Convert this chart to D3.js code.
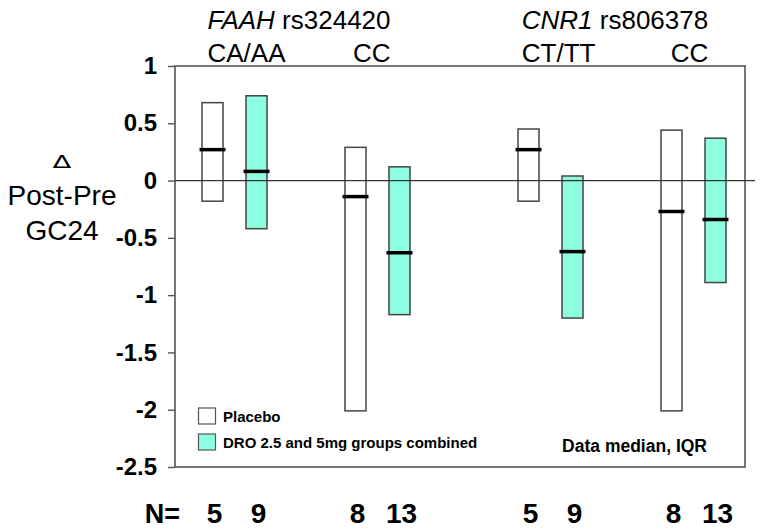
<!DOCTYPE html>
<html>
<head>
<meta charset="utf-8">
<script src="https://cdn.jsdelivr.net/npm/d3@7"></script>
<style>
  html, body { margin: 0; padding: 0; background: #fff; }
  svg { display: block; font-family: "Liberation Sans", Arial, sans-serif; }
</style>
</head>
<body>
<svg id="chart" width="762" height="531"></svg>
<script>
// ---------------- data ----------------
const genes = ["FAAH", "CNR1"];
const snps = ["rs324420", "rs806378"];
const genotypes = [["CA/AA", "CC"], ["CT/TT", "CC"]];
const series = ["Placebo", "DRO 2.5 and 5mg groups combined"];

// order: FAAH CA/AA, FAAH CC, CNR1 CT/TT, CNR1 CC
const placeboQ3 = [0.68, 0.29, 0.45, 0.44];
const placeboMedian = [0.27, -0.14, 0.27, -0.27];
const placeboQ1 = [-0.18, -2.01, -0.18, -2.01];
const droQ3 = [0.74, 0.12, 0.04, 0.37];
const droMedian = [0.08, -0.63, -0.62, -0.34];
const droQ1 = [-0.42, -1.17, -1.20, -0.89];
const placeboN = [5, 8, 5, 8];
const droN = [9, 13, 9, 13];

const yTicks = [1, 0.5, 0, -0.5, -1, -1.5, -2, -2.5];
const yTitle = ["\u0394", "Post-Pre", "GC24"];
const noteText = "Data median, IQR";

// ---------------- layout ----------------
const svg = d3.select("#chart");
const frame = { left: 175, right: 745, top: 66, bottom: 467 };
const fillDRO = "#8dffe0";
const strokeBar = "#444";

const y = d3.scaleLinear().domain([1, -2.5]).range([frame.top, frame.bottom]);
const xGene = d3.scalePoint().domain(genes).range([306, 622]);
const xGeno = d3.scalePoint().domain([0, 1]).range([-71.5, 71.5]);
const xSeries = d3.scalePoint().domain(series).range([-22, 22]);
const barW = 21;

// flatten data into records
const records = [];
genes.forEach((g, gi) => {
  genotypes[gi].forEach((gt, ti) => {
    const k = gi * 2 + ti;
    const cx = xGene(g) + xGeno(ti);
    records.push({ gene: g, gt, s: series[0], cx: cx + xSeries(series[0]),
      q1: placeboQ1[k], med: placeboMedian[k], q3: placeboQ3[k], n: placeboN[k], fill: "#fff" });
    records.push({ gene: g, gt, s: series[1], cx: cx + xSeries(series[1]),
      q1: droQ1[k], med: droMedian[k], q3: droQ3[k], n: droN[k], fill: fillDRO });
  });
});

// frame
svg.append("rect")
  .attr("x", frame.left).attr("y", frame.top)
  .attr("width", frame.right - frame.left).attr("height", frame.bottom - frame.top)
  .attr("fill", "none").attr("stroke", "#555").attr("stroke-width", 1.6);

// y axis
const yAxis = d3.axisLeft(y).tickValues(yTicks).tickSize(7).tickPadding(11)
  .tickFormat(d => String(d));
const gy = svg.append("g").attr("transform", `translate(${frame.left},0)`).call(yAxis);
gy.select(".domain").remove();
gy.selectAll(".tick line").attr("stroke", "#555").attr("stroke-width", 1.4);
gy.selectAll(".tick text")
  .attr("font-size", 24).attr("font-weight", "bold").attr("fill", "#000")
  .attr("font-family", "Liberation Sans, Arial, sans-serif");

// bars (IQR)
svg.append("g").selectAll("rect").data(records).join("rect")
  .attr("x", d => d.cx - barW / 2)
  .attr("y", d => y(d.q3))
  .attr("width", barW)
  .attr("height", d => y(d.q1) - y(d.q3))
  .attr("fill", d => d.fill)
  .attr("stroke", strokeBar).attr("stroke-width", 1.5);

// zero line
svg.append("line")
  .attr("x1", frame.left).attr("x2", 755)
  .attr("y1", y(0)).attr("y2", y(0))
  .attr("stroke", "#333").attr("stroke-width", 1.3);

// medians
svg.append("g").selectAll("line").data(records).join("line")
  .attr("x1", d => d.cx - barW / 2 - 2.5)
  .attr("x2", d => d.cx + barW / 2 + 2.5)
  .attr("y1", d => y(d.med)).attr("y2", d => y(d.med))
  .attr("stroke", "#000").attr("stroke-width", 3.5);

// headers
genes.forEach((g, gi) => {
  const t = svg.append("text")
    .attr("x", xGene(g) - 7).attr("y", 29)
    .attr("text-anchor", "middle")
    .attr("font-size", 26).attr("fill", "#000");
  t.append("tspan").attr("font-style", "italic").text(g);
  t.append("tspan").text(" " + snps[gi]);
  const bb = t.node().getBBox();
  svg.append("text").attr("x", bb.x).attr("y", 62)
    .attr("font-size", 26).attr("text-anchor", "start").text(genotypes[gi][0]);
  svg.append("text").attr("x", bb.x + bb.width).attr("y", 62)
    .attr("font-size", 26).attr("text-anchor", "end").text(genotypes[gi][1]);
});

// y title
svg.append("text").attr("transform", "translate(62,168) scale(1.45,0.9)")
  .attr("text-anchor", "middle").attr("font-family", "DejaVu Sans")
  .attr("font-size", 19).text(yTitle[0]);
svg.append("text").attr("x", 62).attr("y", 205).attr("text-anchor", "middle")
  .attr("font-size", 28).text(yTitle[1]);
svg.append("text").attr("x", 62).attr("y", 240).attr("text-anchor", "middle")
  .attr("font-size", 28).text(yTitle[2]);

// legend
const lg = svg.append("g");
series.forEach((s, i) => {
  lg.append("rect").attr("x", 198.5).attr("y", 408 + i * 26)
    .attr("width", 17).attr("height", 16)
    .attr("fill", i === 0 ? "#fff" : fillDRO)
    .attr("stroke", "#555").attr("stroke-width", 1.2);
  lg.append("text").attr("x", 223).attr("y", 422 + i * 26)
    .attr("font-size", 15).attr("font-weight", "bold").text(s);
});
svg.append("text").attr("x", 707).attr("y", 452).attr("text-anchor", "end")
  .attr("font-size", 17.5).attr("font-weight", "bold").text(noteText);

// N row
svg.append("text").attr("x", 180).attr("y", 523).attr("text-anchor", "end")
  .attr("font-size", 27).attr("font-weight", "bold").text("N=");
svg.append("g").selectAll("text").data(records).join("text")
  .attr("x", d => d.cx + 2).attr("y", 523)
  .attr("text-anchor", "middle")
  .attr("font-size", 28).attr("font-weight", "bold")
  .text(d => d.n);
</script>
</body>
</html>
